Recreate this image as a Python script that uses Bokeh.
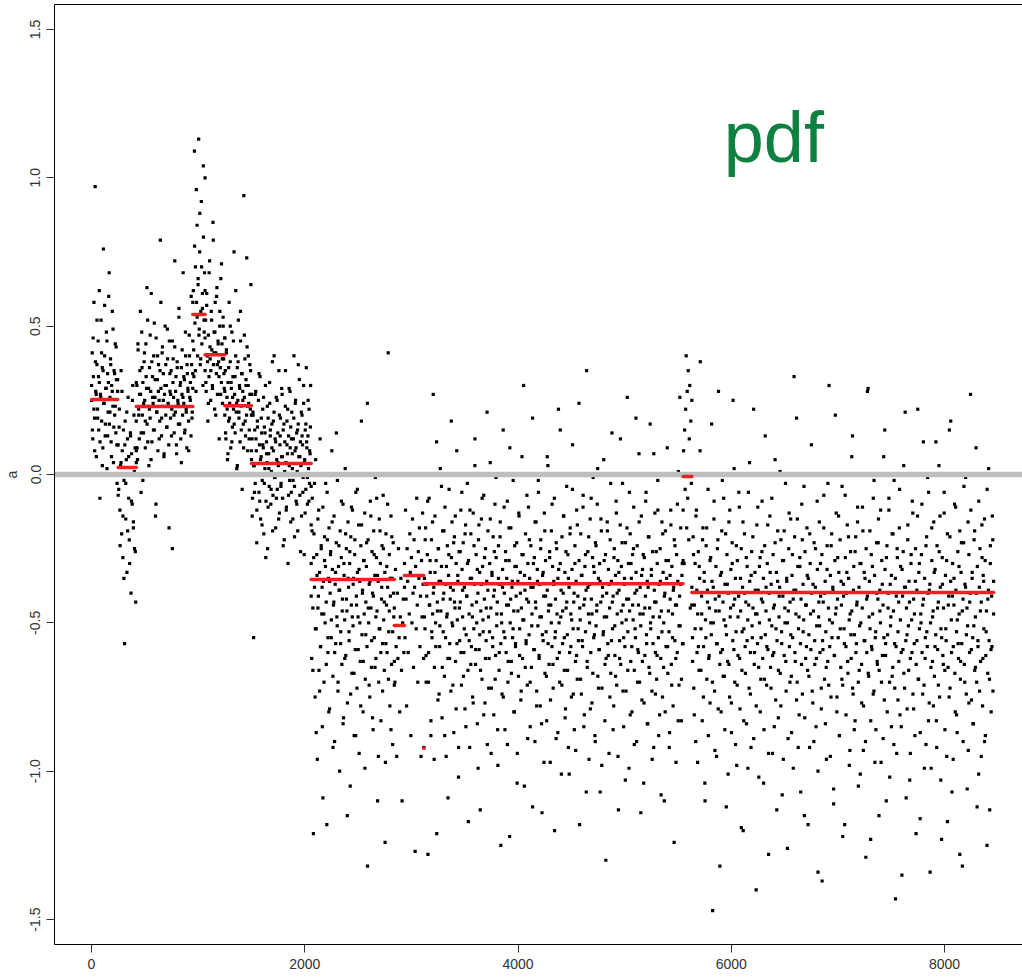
import numpy as np
from bokeh.plotting import figure
from bokeh.models import Range1d, LinearAxis, FixedTicker, Label, NumeralTickFormatter
from bokeh.embed import file_html
from bokeh.resources import INLINE

# ---------------- data ----------------
x_ticks = [0, 2000, 4000, 6000, 8000]
y_ticks = [-1.5, -1.0, -0.5, 0.0, 0.5, 1.0, 1.5]

# segments (index ranges) and their means (red lines)
seg_start = [1, 250, 420, 950, 1065, 1250, 1500, 2060, 2840, 2935, 3117, 3122, 5548, 5630]
seg_end   = [245, 420, 950, 1065, 1250, 1500, 2060, 2840, 2935, 3115, 3119, 5548, 5630, 8460]
seg_mean  = [0.253, 0.024, 0.229, 0.539, 0.404, 0.232, 0.037, -0.354, -0.509, -0.340, -0.923, -0.368, -0.007, -0.398]

# observed values per segment (hundredths), sampled along each segment
a01 = [25, 41, 12, 33, 58, 19, 97, 28, 6, 37, 22, 45, 15, 31, -8, 27, 52, 18, 36, 9, 76, 24, 40, 13, 29, 48, 2, 34, 21, 60,
       17, 26, 39, 11, 30, 55, 23, 4, 35, 20, 44, 14, 32, -3, 28]
a02 = [10, -5, 22, -12, 3, 35, -20, 8, -28, 15, -2, -57, 18, -15, 5, -33, 12, 26, -8, -22, 0, 14, -40, 7, -10, 30, -18, 20,
       -25, 9, -43, 4]
a03 = [18, 30, 5, 42, 22, 12, 35, 27, -6, 48, 20, 31, 14, 38, 25, 9, 44, 29, 17, 52, 23, 3, 36, 19, 28, 61, 11, 33, 24, 40,
       15, 26, -14, 46, 21, 32, 8, 37, 25, 18, 79, 29, 13, 41, 23, 34, 6, 27, 50, 20, 30, 16, 39, 24, 10, 45, 28, 19, 35, 22,
       -25, 31, 26, 14, 43, 21, 33, 7, 38, 25, 17, 56, 23, 30, 12, 36, 27, 20, 68, 24, 32, 15, 40, 22, 9, 34, 28, 18, 47, 26,
       31, 13, 37, 21, 29]
a04 = [45, 62, 33, 109, 51, 70, 28, 58, 84, 40, 66, 113, 49, 75, 37, 55, 92, 44, 61, 30, 80, 52, 68, 100]
a05 = [35, 52, 28, 61, 40, 18, 47, 33, 72, 39, 25, 55, 42, 30, 85, 37, 48, 22, 58, 41, 34, 63, 27, 45, 38, 12, 50, 36, 66, 31,
       44, 24, 53, 39, 29, 46]
a06 = [20, 35, 12, 42, 26, 5, 31, 18, 58, 24, 38, 9, 29, 48, 16, 33, 22, 75, 27, 14, 40, 21, 2, 36, 25, 52, 19, 30, 11, 45,
       23, 34, -5, 28, 17, 94, 26, 39, 13, 32, 20, 43, 8, 30, 24, 15, 37, 22, 64, 27]
a07 = [5, 12, -8, 20, -55, 3, 15, -3, 28, 8, -12, 18, 0, 25, -6, 10, 33, -15, 6, 14, -2, 22, 9, -20, 16, 2, 30, -9, 11, 4,
       -25, 19, 7, -4, 24, 13, -10, 1, 17, 38, -7, 8, 21, -1, 12, -18, 26, 5, -5, 14, 3, 35, -13, 10, 19, -3, 6, 27, -8, 15,
       0, -22, 11, 23, 4, -11, 18, 7, -30, 13, 29, -2, 9, 16, -6, 21, 2, -15, 12, 40, -4, 8, 25, -9, 14, 1, -19, 17, 6, 32,
       -7, 11, 3, -14, 20, 10, -1, 24, -27, 5, 15, -5, 36, 9, -10, 13, 2, 22, -3, 7, 30, -17]
a08 = [-30, -62, -8, -45, -121, -20, -38, -75, 5, -52, -27, -96, -15, -41, -66, -33, 12, -58, -24, -47, -85, -11, -36, -70,
       -29, -50, -3, -43, -118, -22, -60, -35, -18, -79, -40, -26, -55, 8, -32, -68, -44, -14, -90, -37, -57, -23, -48, -2,
       -73, -31, -39, -100, -19, -53, -28, -64, -42, -10, -82, -34, -49, 2, -61, -25, -46, -77, -16, -38, -56, -30, -105, -21,
       -44, -67, -12, -51, -35, -88, -27, -59, -6, -41, -72, -33, -48, -17, -94, -36, -63, -24, 18, -54, -39, -80, -29, -47,
       -13, -69, -43, -31, -58, -132, -22, -50, -37, -75, -9, -45, -65, -26, -40, -86, -19, -55, -34, -1, -62, -28, -46, -110,
       -36, -70, -15, -52, -30, -83, -42, -24, -57, -7, -49, -66, -33, -97, -20, -44, -60, -38, 41, -53, -27, -78, -41, -14,
       -64, -35, -91, -23, -48, -71]
a09 = [-45, -70, -32, -58, -95, -40, -62, -25, -55, -80, -48, -35, -66, -110, -50, -42, -60, -38]
a10 = [-30, -55, -12, -42, -78, -25, -36, -60, 0, -47, -20, -33, -88, -28, -50, -15, -40, -65, -22, -38, -127, -31, -52, -8,
       -44, -70, -26, -35, -18, -58, -41, -95, -29, -48, -13, -37, -62]
a11 = [-92]
a12 = [-35, -52, -18, -70, -41, -27, -128, -60, -8, -44, -33, -88, -22, -55, -47, 27, -38, -65, -14, -50, -29, -121, -43, -76,
       -25, -36, -58, 2, -46, -31, -82, -19, -53, -40, -68, -11, -37, -95, -48, -24, -62, -34, -5, -57, -42, -73, -28, -16,
       -51, -39, -87, -21, -45, -63, -30, 8, -49, -36, -102, -26, -56, -43, -12, -71, -32, -48, -23, -60, -38, -79, -17, -54,
       -41, -3, -66, -29, -47, -92, -35, -20, -58, -44, -75, -13, -52, -37, 12, -64, -27, -50, -84, -40, -22, -59, -33, -113,
       -46, -15, -69, -31, -53, -7, -42, -77, -25, -56, -36, -91, -19, -48, -62, -30, 4, -45, -72, -34, -55, -21, -81, -39,
       -10, -61, -28, -51, -43, -98, -24, -66, -37, -16, -57, -47, -74, -32, 15, -53, -40, -86, -26, -60, -35, -9, -70, -44,
       -29, -122, -50, -18, -63, -38, -55, -2, -46, -80, -31, -58, -41, -23, -94, -36, -68, -14, -52, -33, -76, -45, 6, -62,
       -27, -49, -105, -39, -20, -57, -42, -71, -30, -11, -54, -35, -85, -24, -65, -47, 19, -38, -59, -28, -90, -43, -16, -73,
       -32, -51, -6, -61, -37, -78, -22, -48, -114, -34, -56, -41, -13, -67, -29, -53, -83, -39, 3, -46, -64, -26, -97, -44,
       -19, -58, -31, -72, -36, -8, -55, -42, -89, -25, -62, -35, 22, -50, -70, -30, -48, -101, -21, -57, -40, -14, -66, -33,
       -79, -45, -4, -54, -27, -92, -38, -60, -18, -47, -75, -32, 10, -52, -43, -86, -24, -63, -36, -12, -69, -41, -56, -29,
       -118, -49, -20, -74, -34, -58, -7, -44, -81, -31, -53, -39, 35, -65, -26, -47, -96, -37, -15, -60, -42, -77, -28, -1,
       -55, -33, -88, -23, -51, -46, -10, -68, -35, -59, -30, -107, -43, -19, -72, -38, -54, 5, -48, -83, -27, -62, -40, -16,
       -57, -32, -94, -45, -22, -67, -36, 14, -52, -41, -78, -25, -61, -34, -9, -71, -47, -29, -113, -39, -56, -17, -64, -31,
       -50, -3, -44, -85, -37, -58, -23, -73, -42, 26, -53, -30, -99, -46, -20, -63, -35, -80, -27, -49, -11, -66, -40, -55,
       -33, -90, -24, -59, -44, 7, -70, -38, -51, -14, -76, -32, -47, -104, -28, -61, -41, -6, -57, -36, -84, -21, -65, -45,
       17, -52, -34, -73, -26, -48, -92, -39, -13, -60, -43, -69, -30, -2, -55, -37, -81, -25, -62, -46, -16, -75, -33, -50,
       -110, -40, -19, -58, -35, 9, -67, -29, -53, -87, -42, -12, -64, -31, -47, -78, -38, -22, -56, -44, -97, -27, -60, -36,
       1, -71, -41, -51, -18, -83, -34, -57, -29]
a13 = [-12, 8, -30, 15, -5, 22, 40, -18, 28, -8, 35, -22, 12, 30, -45, 18, -3, 25]
a14 = [-38, -55, -21, -72, -44, -30, -90, -12, -60, -47, -26, -66, -35, 38, -52, -41, -83, -18, -58, -33, -104, -49, -24, -69,
       -39, -5, -62, -45, -77, -28, -54, -36, -147, -50, -15, -73, -42, -31, -95, -57, -22, 28, -46, -64, -34, -80, -19, -59,
       -43, -8, -68, -37, -51, -112, -27, -63, -40, -16, -75, -48, -32, -87, -23, -56, -44, 2, -70, -35, -53, -98, -29, -61,
       -41, -11, -79, -46, -25, -66, -38, -120, -52, -20, -58, -43, -84, -31, -49, -6, -72, -36, -60, -92, -26, -55, -45, 22,
       -64, -33, -47, -78, -17, -57, -39, -102, -50, -28, -69, -42, -9, -62, -35, -86, -24, -54, -46, -71, -30, -59, -128, -40,
       -14, -65, -37, -51, -94, -27, -60, -44, 5, -76, -33, -56, -19, -82, -48, -38, -67, -22, -53, -108, -41, -29, -61, -45,
       -3, -73, -36, -50, -89, -25, -58, -43, -15, -68, -34, -55, -99, -39, -21, -63, -47, 19, -70, -31, -52, -81, -28, -57,
       -42, -10, -74, -37, -49, -115, -26, -62, -44, -18, -66, -35, -54, -92, -30, -59, -40, 0, -77, -46, -23, -64, -38, -85,
       -51, -32, -134, -48, -16, -60, -41, -72, -27, -56, -43, -7, -69, -36, -53, -96, -24, -63, -45, 30, -58, -34, -75, -20,
       -50, -39, -106, -61, -29, -47, -13, -80, -42, -55, -33, -88, -22, -65, -44, -4, -71, -37, -52, -118, -28, -58, -40, -17,
       -67, -35, -49, -93, -26, -62, -46, 13, -74, -31, -54, -83, -21, -57, -43, -11, -70, -38, -51, -101, -30, -64, -45, -19,
       -78, -33, -56, -90, -25, -60, -41, 29, -68, -36, -52, -123, -27, -59, -47, -8, -73, -34, -55, -86, -23, -63, -42, -15,
       -66, -39, -50, -97, -29, -61, -44, 6, -76, -32, -57, -110, -24, -54, -40, -12, -70, -37, -48, -85, -20, -65, -46, -2,
       -72, -35, -58, -94, -28, -53, -43, -18, -81, -31, -60, -135, -41, -26, -67, -38, 21, -56, -45, -79, -22, -51, -36, -103,
       -62, -30, -49, -9, -74, -42, -57, -88, -25, -64, -39, -14, -69, -33, -52, -116, -47, -27, -60, -44, 11, -71, -35, -55,
       -91, -21, -58, -40, -6, -77, -37, -50, -99, -29, -63, -46, -16, -68, -32, -54, -83, -24, -59, -43, 3, -75, -38, -52,
       -123, -28, -61, -45, -13, -66, -34, -56, -95, -20, -65, -41, 15, -72, -36, -49, -107, -30, -58, -44, -10, -80, -39, -53,
       -87, -26, -62, -47, -19, -69, -33, -57, -132, -42, -23, -64, -37, -1, -74, -45, -51, -93, -27, -60, -40, -12, -76, -35,
       -55, -84, -22, -66, -48, 9, -70, -31, -58, -101, -38, -25, -63, -43, -17, -78, -34, -52, -90, -29, -61, -46, -5, -67,
       -39, -56, -113, -24, -59, -41, -14, -73, -36]

# second pass of observed values for the same segments (interleaved positions)
b01 = [30, 15, 46, 22, 8, 38, 27, 52, 19, 33, 62, 11, 26, 41, 3, 35, 24, 57, 17, 29, 45, 13, 31, 68, 21, 37, 6, 28, 49, 16,
       34, 23, 43, 10, 32]
b02 = [-7, 16, -24, 4, 28, -14, -35, 10, -3, 21, -19, 6, -30, 13, -9, 25, -16, 1, -26, 8]
b03 = [31, 9, 44, 20, 27, 55, 14, 36, -2, 24, 41, 18, 33, 63, 11, 29, 22, 47, 5, 38, 26, 15, 51, 32, -10, 21, 40, 28, 12, 35,
       58, 19, 43, 25, 7, 30, 37, 16, 49, 23, -18, 34, 27, 13, 45, 39, 20, 72, 28, 10, 36, 24, 53, 17, 31, 4, 42, 26, 33, 14,
       48, 21, 37, 29, 8, 40, 25, 60, 19, 34]
b04 = [58, 42, 77, 35, 96, 53, 64, 47, 88, 39, 70, 56, 104, 48, 62]
b05 = [46, 31, 57, 38, 24, 68, 43, 35, 52, 29, 79, 41, 48, 20, 60, 37, 44, 33, 55, 27, 71, 39, 50, 34, 46]
b06 = [28, 14, 41, 22, 7, 36, 19, 50, 31, 11, 26, 45, 17, 33, 62, 24, 3, 38, 21, 29, 55, 15, 34, 25, 9, 47, 18, 30, 73, 23,
       40, 12, 27, 35, 20]
b07 = [8, -14, 21, 3, -6, 27, 12, -23, 16, 0, 34, -9, 5, 19, -17, 10, 26, -3, 14, -28, 7, 23, -11, 2, 31, 15, -5, 9, -19, 18,
       40, -1, 11, -8, 25, 4, -15, 20, 13, -4, 29, 6, -24, 17, 1, 35, -12, 10, 22, -7, 3, 28, -16, 12, 7, -2, 19, -21, 24, 9,
       -10, 15, 37, 0, 6, -26, 21, 13, -6, 30, 4, -13, 17, 11, -1, 25, -9, 8, 16, -4]
b08 = [-41, -19, -66, -28, -3, -52, -87, -34, -45, -12, -73, -58, -25, -38, -109, -47, -21, -31, -64, -6, -55, -80, -36, -27,
       -49, -16, -92, -43, -60, -33, 14, -51, -70, -24, -39, -57, -9, -46, -84, -30, -62, -20, -42, -115, -35, -53, -26, -74,
       -11, -48, -37, -67, -22, -88, -44, -5, -59, -32, -50, -78, -17, -40, -63, -29, -99, -54, -23, 24, -45, -71, -36, -14,
       -56, -82, -41, -27, -65, -48, -8, -34, -95, -52, -19, -60, -38, -73, -25, -43, -124, -57, -31, -10, -69, -46, -35, -86,
       -21, -53, -40, -63]
b12 = [-48, -22, -61, -37, -9, -70, -44, -29, -83, -53, -16, -40, -96, -33, -58, 11, -46, -25, -74, -51, -36, -4, -65, -42,
       -19, -88, -55, -31, -47, -109, -27, -62, -38, 18, -50, -71, -23, -43, -14, -79, -57, -34, -92, -45, -26, -60, -6, -39,
       -68, -52, -20, -85, -41, -30, -117, -56, -12, -64, -35, -48, -77, -24, 3, -59, -43, -32, -99, -17, -54, -66, -37, -8,
       -49, -81, -28, -62, -45, 21, -39, -72, -53, -15, -94, -33, -58, -41, -26, -69, -1, -47, -86, -35, -60, -21, -125, -50,
       -38, -75, -11, -55, -29, -44, -91, -63, -18, 9, -42, -67, -36, -52, -80, -24, -57, -31, -104, -46, -13, -61, -40, -73,
       -27, -49, 30, -34, -65, -56, -7, -89, -43, -22, -70, -38, -51, -112, -30, -59, -16, -45, -78, -36, -2, -62, -48, -25,
       -84, -54, -33, -97, -19, -41, -68, 6, -57, -44, -28, -76, -50, -10, -64, -37, -120, -53, -23, -47, -87, -32, -60, 15,
       -39, -71, -46, -14, -55, -82, -26, -43, -66, -35, -101, -20, -58, -49, -5, -74, -40, -30, -93, -61, -17, -52, 24, -45,
       -69, -34, -56, -11, -85, -42, -27, -107, -63, -38, -21, -50, -79, -8, -47, -67, -31, -54, -90, -24, -44, 2, -72, -59,
       -36, -15, -98, -41, -53, -29, -64, -130, -48, -19, -61, -37, -75, -3, -56, -43, -86, -28, -51, -68, -13, -40, -95, -33,
       -62, 12, -46, -23, -73, -55, -35, -103, -49, -18, -66, -42, -6, -81, -30, -58, -44, -25, -91, -52, 19, -39, -70, -60,
       -16, -47, -114, -34, -63, -27, -77, -45, -9, -54, -84, -38, -21, -67, -50, -32, -96, -57, 7, -43, -74, -26, -61, -12,
       -88, -48, -36, -108, -53, -20, -65, -41, -80, -29, 0, -58, -46, -92, -34, -17, -71, -55, -39, -124, -24, -62, -44, -10,
       -83, -51, 26, -37, -69, -30, -57]
b14 = [-44, -63, -27, -81, -52, -14, -39, -97, -58, -31, 8, -66, -47, -22, -75, -36, -110, -55, -18, -43, -88, -61, -29, -50,
       17, -70, -38, -9, -93, -46, -57, -25, -79, -41, -132, -60, -33, -2, -68, -49, -86, -20, -54, -37, -101, -64, -12, -45,
       -77, -30, 25, -59, -42, -91, -24, -71, -48, -6, -62, -35, -119, -53, -16, -83, -40, -67, -28, -56, -99, -44, 4, -74,
       -34, -51, -21, -89, -60, -39, -140, -47, -11, -65, -31, -80, -55, -26, -43, -104, -69, 13, -38, -58, -17, -94, -49, -33,
       -72, -8, -61, -45, -85, -23, -52, -113, -36, -66, -41, 1, -78, -57, -29, -96, -19, -50, -63, -35, -126, -46, -13, -70,
       -54, -87, -27, -42, 33, -60, -39, -76, -15, -92, -48, -31, -107, -64, -22, -53, -4, -82, -44, -58, -34, -118, -68, -20,
       -47, 10, -73, -37, -90, -56, -25, -62, -9, -100, -43, -51, -30, -79, -137, -59, -18, -40, -84, -65, -32, -3, -71, -49,
       -95, -24, -55, -38, -111, -61, 20, -45, -75, -28, -14, -88, -52, -36, -69, -122, -41, -57, -7, -81, -33, -63, -21, -98,
       -47, -54, 6, -72, -39, -86, -26, -60, -44, -16, -105, -66, -30, -50, -77, -11, -93, -56, -35, -129, -42, 28, -67, -48,
       -19, -83, -58, -31, -74, -2, -97, -53, -40, -64, -23, -115, -46, -12, -70, -37, -89, -55, 15, -61, -28, -80, -45, -8,
       -102, -51, -34, -68, -20, -91, -57, -143, -41, -25, -76, -63, -5, -49, -85, -32, -59, 3, -72, -38, -109, -54, -17, -66,
       -43, -94, -27, -60, -13, -79, -47, -36, -121, -56, 22, -69, -30, -87, -50, -10, -74, -42, -99, -62, -24, -53, -1, -83,
       -39, -134, -65, -18, -48, -78, -33, -58, 11, -92, -45, -71, -26, -14, -103, -55, -37, -64, -6, -86, -52, -29, -117, -44,
       -75, -21, 18, -60, -41, -96, -35, -67, -11, -81, -49, -57, -31, -128, -63, -23, -46, -90, -4, -70, -38, -54, -106, -16,
       -77, -43, 27, -59, -33, -84, -51, -19, -65, -40, -112, -56, -9, -73, -46, -95, -28, -62, -36, -15, -88, -53, -125, -42,
       2, -69, -30, -80, -58, -22, -47]

# which segment each list of values belongs to
groups = [(0, a01), (1, a02), (2, a03), (3, a04), (4, a05), (5, a06), (6, a07), (7, a08), (8, a09), (9, a10),
          (10, a11), (11, a12), (12, a13), (13, a14),
          (0, b01), (1, b02), (2, b03), (3, b04), (4, b05), (5, b06), (6, b07), (7, b08), (11, b12), (13, b14)]

pdf_text = "pdf"
y_label = "a"

# ---------------- assemble point positions (sample index along each segment) ----------------
xs, ys = [], []
for k, g in groups:
    xs.extend(np.linspace(seg_start[k], seg_end[k], len(g)).tolist())
    ys.extend([v / 100.0 for v in g])

FONT = "Liberation Sans"

p = figure(width=1022, height=977, output_backend="svg", toolbar_location=None,
           x_range=Range1d(-347, 8731), y_range=Range1d(-1.584, 1.584),
           min_border_left=53, min_border_right=0, min_border_top=4, min_border_bottom=33,
           x_axis_location=None, y_axis_location=None, background_fill_color="white",
           border_fill_color="white")
p.outline_line_color = None
p.xgrid.visible = False
p.ygrid.visible = False

xaxis = LinearAxis(ticker=FixedTicker(ticks=x_ticks), formatter=NumeralTickFormatter(format="0"),
                   major_tick_out=8, major_tick_in=0, minor_tick_line_color=None,
                   major_label_standoff=6, major_label_text_font_size="14px",
                   major_label_text_font=FONT, major_label_text_color="#333333",
                   axis_line_color="black", major_tick_line_color="#333333")
p.add_layout(xaxis, "below")

yaxis = LinearAxis(ticker=FixedTicker(ticks=y_ticks), formatter=NumeralTickFormatter(format="0.0"),
                   major_tick_out=8, major_tick_in=0, minor_tick_line_color=None,
                   major_label_standoff=6, major_label_text_font_size="14px",
                   major_label_text_font=FONT, major_label_text_color="#333333",
                   major_label_orientation="vertical",
                   axis_label=y_label, axis_label_text_font=FONT, axis_label_text_font_size="14px",
                   axis_label_text_font_style="normal", axis_label_text_color="#333333",
                   axis_label_standoff=8,
                   axis_line_color="black", major_tick_line_color="#333333")
p.add_layout(yaxis, "left")

top = LinearAxis(ticker=FixedTicker(ticks=[]), major_tick_out=0, major_tick_in=0,
                 minor_tick_line_color=None, major_label_standoff=0,
                 major_label_text_font_size="0px", axis_line_color="black")
p.add_layout(top, "above")

p.scatter(xs, ys, marker="square", size=3.2, fill_color="black", line_color=None)
p.hspan(y=[0.0], line_color="#bebebe", line_width=5.5)
p.segment(x0=seg_start, y0=seg_mean, x1=seg_end, y1=seg_mean,
          line_color="#ee2020", line_width=3.5, line_cap="round")

p.add_layout(Label(x=5930, y=1.136, text=pdf_text, text_font=FONT, text_font_size="72px",
                   text_color="#0e8040", text_baseline="alphabetic", text_align="left"))

open("out.html", "w").write(file_html(p, INLINE))
